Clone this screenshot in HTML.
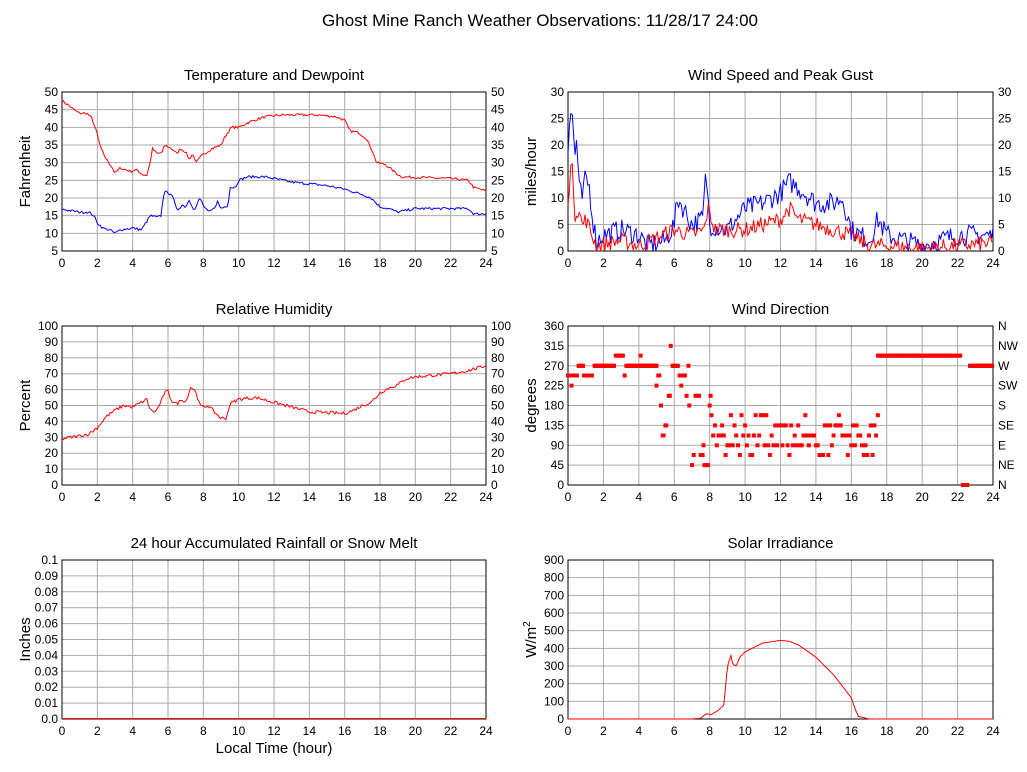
<!DOCTYPE html>
<html><head><meta charset="utf-8"><style>
body{margin:0;background:#fff}
svg{display:block;font-family:"Liberation Sans",sans-serif}
</style></head><body>
<svg id="s" width="1027" height="772" xmlns="http://www.w3.org/2000/svg"></svg>
<script>
const S=document.getElementById('s');let h='';
h+='<rect width="1027" height="772" fill="#fff"/>';
h+='<text x="540" y="26" font-size="17" text-anchor="middle">Ghost Mine Ranch Weather Observations: 11/28/17 24:00</text>';
let seed=7;function rnd(){seed=(seed*16807)%2147483647;return seed/2147483647;}
function interp(k,t){for(let i=0;i<k.length-1;i++){if(t>=k[i][0]&&t<=k[i+1][0]){const f=(t-k[i][0])/(k[i+1][0]-k[i][0]||1);return k[i][1]+f*(k[i+1][1]-k[i][1]);}}return k[k.length-1][1];}
function panel(o){const {x0,y0,w,hh,ymin,ymax,step,title,ylab,right,rlabels,xlab,yfmt}=o;
 h+=`<text x="${x0+w/2}" y="${y0-12}" font-size="15" text-anchor="middle">${title}</text>`;
 for(let i=0;i<=12;i++){const x=x0+w*i/12;h+=`<line x1="${x}" y1="${y0}" x2="${x}" y2="${y0+hh}" stroke="#aaa"/>`;
  h+=`<text x="${x}" y="${y0+hh+16}" font-size="12" text-anchor="middle">${i*2}</text>`;}
 const n=Math.round((ymax-ymin)/step);
 for(let j=0;j<=n;j++){const v=ymin+j*step;const y=y0+hh-hh*j/n;h+=`<line x1="${x0}" y1="${y}" x2="${x0+w}" y2="${y}" stroke="#aaa"/>`;
  const lab=yfmt?yfmt(v):v;h+=`<text x="${x0-4}" y="${y+4}" font-size="12" text-anchor="end">${lab}</text>`;
  if(right)h+=`<text x="${x0+w+5}" y="${y+4}" font-size="12">${rlabels?rlabels[j]:lab}</text>`;}
 h+=`<rect x="${x0}" y="${y0}" width="${w}" height="${hh}" fill="none" stroke="#000"/>`;
 h+=`<text transform="translate(${x0-32},${y0+hh/2}) rotate(-90)" font-size="15" text-anchor="middle">${ylab}</text>`;
 if(xlab)h+=`<text x="${x0+w/2}" y="${y0+hh+34}" font-size="15" text-anchor="middle">${xlab}</text>`;
 const X=t=>x0+w*t/24,Y=v=>y0+hh-hh*(v-ymin)/(ymax-ymin);return [X,Y];}
function line(X,Y,k,col,noise,clampMin,ymax){let p=[];for(let t=0;t<=24.001;t+=0.08){let v=interp(k,t)+(rnd()-0.5)*2*noise;if(clampMin!=null&&v<clampMin)v=clampMin;if(ymax!=null&&v>ymax)v=ymax;p.push(X(t).toFixed(1)+','+Y(v).toFixed(1));}
 h+=`<polyline points="${p.join(' ')}" fill="none" stroke="${col}" stroke-width="1"/>`;}
let X,Y;
[X,Y]=panel({x0:62,y0:92,w:424,hh:159,ymin:5,ymax:50,step:5,title:'Temperature and Dewpoint',ylab:'Fahrenheit',right:1});
line(X,Y,[[0,47.5],[0.3,46.5],[0.8,44.5],[1,44],[1.4,44],[1.7,42.5],[2,38],[2.2,34],[2.5,31],[2.8,29],[3,27],[3.3,28.5],[3.6,28],[3.9,27.5],[4.2,28],[4.6,26.5],[4.8,26.5],[5,30],[5.1,34],[5.4,32.5],[5.7,33],[5.8,35],[6.2,34],[6.5,32.5],[6.7,34],[7,33],[7.2,31],[7.4,32.5],[7.6,30],[7.9,32],[8.5,34],[9,35],[9.3,38],[9.6,40],[10,40],[10.6,41.5],[11.5,43],[12.5,43.5],[14.5,43.5],[15.5,43],[16,42],[16.3,39],[16.8,38.5],[17.2,37],[17.6,33],[17.8,30],[18.3,29.5],[18.8,27.5],[19.2,26],[22,25.5],[23,25],[23.3,23],[24,22]],'#f00',0.35);
line(X,Y,[[0,16.8],[1,16],[1.5,16],[1.8,15],[2,13],[2.3,11.5],[2.7,11],[3,10],[3.3,11],[4,11.5],[4.5,11],[5,15],[5.4,14.5],[5.6,15],[5.8,22.5],[6,21],[6.2,21.5],[6.5,16.5],[6.8,18],[7,17.5],[7.2,19.5],[7.5,16.5],[7.8,20],[8.1,17],[8.3,16],[8.6,17],[8.8,19],[9,17],[9.4,18],[9.5,23],[9.8,23],[10,25],[10.5,26],[11.5,26],[12,25.5],[13,24.5],[14,24],[15,23.5],[16,22.5],[17,21],[17.5,20],[18,17.5],[18.5,17],[19,16],[20,17],[23,17],[23.3,15.5],[24,15.5]],'#00f',0.35);
[X,Y]=panel({x0:568,y0:92,w:425,hh:159,ymin:0,ymax:30,step:5,title:'Wind Speed and Peak Gust',ylab:'miles/hour',right:1});
line(X,Y,[[0,20],[0.1,25],[0.2,27],[0.4,18],[0.5,22],[0.6,12],[0.8,10],[1,14],[1.2,12],[1.4,6],[1.6,2],[2,3],[3,4],[4,3],[4.5,1],[5.5,2],[6,5],[6.2,10],[7,5],[7.6,6],[7.8,15],[8,5],[9,4],[10,8],[11,9],[12,11],[12.5,13],[13,12],[14,9],[15,9],[15.5,10],[16,4],[17,2],[17.5,6],[18,3],[19,2],[20,1],[21,2],[22,3],[24,3]],'#00f',2,0,30);
line(X,Y,[[0,10],[0.2,17],[0.4,7],[0.6,8],[0.8,5],[1,6],[1.6,1],[3,2],[4,1],[6,4],[7,3],[7.7,4],[7.9,8],[8.3,4],[10,4],[12,6],[12.5,8],[13,6],[14,5],[15,4],[16,3],[17,1],[18,1],[20,0.5],[22,1],[24,1.5]],'#f00',1.5,0);
[X,Y]=panel({x0:62,y0:326,w:424,hh:159,ymin:0,ymax:100,step:10,title:'Relative Humidity',ylab:'Percent',right:1});
line(X,Y,[[0,29],[1,31],[1.5,32],[2,36],[2.5,43],[3,47],[3.5,50],[4,49],[4.5,52],[4.8,54],[5,47],[5.3,46],[5.6,52],[5.8,58],[6,59],[6.2,53],[6.5,51],[6.8,54],[7,52],[7.3,62],[7.6,58],[7.8,50],[8,49],[8.3,50],[8.6,46],[9,42],[9.3,42],[9.5,51],[10,54],[11,55],[12,52],[13,49],[14,46],[16,45],[16.5,47],[17,50],[17.5,52],[18,58],[18.5,61],[19,63],[19.5,67],[20,68],[21,69],[22,70],[23,72],[24,75]],'#f00',1);
[X,Y]=panel({x0:568,y0:326,w:425,hh:159,ymin:0,ymax:360,step:45,title:'Wind Direction',ylab:'degrees',right:1,rlabels:['N','NE','E','SE','S','SW','W','NW','N']});
function dot(t,v){h+=`<rect x="${(X(t)-2).toFixed(1)}" y="${(Y(v)-2).toFixed(1)}" width="4" height="4" fill="#f00"/>`;}
function seg(a,b,v){for(let t=a;t<=b;t+=0.05)dot(t,v);}
seg(0,0.5,248);dot(0.2,225);seg(0.6,0.9,270);seg(0.9,1.4,248);seg(1.5,2.6,270);seg(2.7,3.1,293);dot(3.2,248);seg(3.3,5,270);dot(4.1,293);
[[5,225],[5.1,248],[5.15,248],[5.25,180],[5.35,112],[5.4,112],[5.5,135],[5.55,135],[5.7,202],[5.75,202],[5.8,315]].forEach(a=>dot(a[0],a[1]));
seg(5.9,6.2,270);[[6.3,248],[6.4,225],[6.5,248],[6.6,248],[6.7,202],[6.8,270],[6.85,180],[7.0,45],[7.1,68],[7.2,202],[7.3,202],[7.4,202],[7.5,68],[7.6,68],[7.65,90],[7.7,45],[7.8,45],[7.9,45],[8.0,180],[8.05,202],[8.1,158]].forEach(a=>dot(a[0],a[1]));
const lv=[90,112,112,135,90,112,135,158,68,90];
for(let t=8.2;t<=17.5;t+=0.1){dot(t,lv[Math.floor(rnd()*lv.length)]);}
seg(17.5,22.2,293);seg(22.3,22.6,0);seg(22.7,24,270);
[X,Y]=panel({x0:62,y0:560,w:424,hh:159,ymin:0,ymax:0.1,step:0.01,title:'24 hour Accumulated Rainfall or Snow Melt',ylab:'Inches',xlab:'Local Time (hour)',yfmt:v=>{const r=Math.round(v*100)/100;return (r===0||r===0.1)?r.toFixed(1):r.toFixed(2);}});
h+=`<line x1="${X(0)}" y1="${Y(0)-0.5}" x2="${X(24)}" y2="${Y(0)-0.5}" stroke="#f00"/>`;
[X,Y]=panel({x0:568,y0:560,w:425,hh:159,ymin:0,ymax:900,step:100,title:'Solar Irradiance',ylab:'W/m<tspan dy="-6" font-size="10">2</tspan>'});
line(X,Y,[[0,0],[7,0],[7.5,5],[7.8,30],[8.1,25],[8.5,50],[8.8,80],[9,300],[9.2,360],[9.3,310],[9.5,300],[9.7,350],[10,380],[11,430],[12,445],[12.5,440],[13,420],[14,350],[15,250],[16,120],[16.2,60],[16.4,15],[17,0],[24,0]],'#f00',0,0);
S.innerHTML=h;
</script>
</body></html>
